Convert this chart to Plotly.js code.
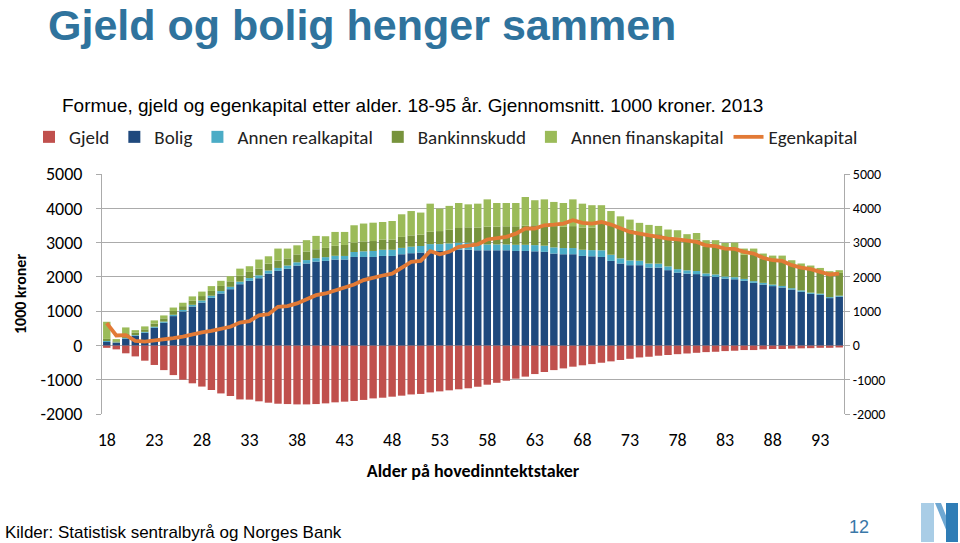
<!DOCTYPE html>
<html>
<head>
<meta charset="utf-8">
<script src="https://cdn.plot.ly/plotly-3.0.1.min.js"></script>
<style>
  html, body { margin: 0; padding: 0; background: #ffffff; }
  #chart { width: 960px; height: 543px; }
</style>
</head>
<body>
<div id="chart"></div>
<script>
// ---- Data (1000 kroner, 2013), ages 18-95 ----
var ages = [18,19,20,21,22,23,24,25,26,27,28,29,30,31,32,33,34,35,36,37,38,39,40,41,42,43,44,45,46,47,48,49,50,51,52,53,54,55,56,57,58,59,60,61,62,63,64,65,66,67,68,69,70,71,72,73,74,75,76,77,78,79,80,81,82,83,84,85,86,87,88,89,90,91,92,93,94,95];

var gjeld = [-70,-115,-230,-320,-445,-570,-720,-865,-1000,-1105,-1200,-1300,-1400,
  -1475,-1575,-1580,-1630,-1670,-1700,-1710,-1720,-1720,-1710,-1690,-1660,-1640,
  -1620,-1590,-1545,-1525,-1495,-1465,-1430,-1415,-1370,-1340,-1310,-1280,-1250,
  -1205,-1145,-1090,-1030,-970,-910,-835,-775,-720,-670,-620,-580,-545,
  -505,-465,-425,-390,-350,-330,-300,-280,-255,-235,-215,-195,-185,
  -165,-155,-135,-135,-115,-105,-105,-95,-85,-80,-70,-70,-60];

var bolig = [100,80,200,280,370,515,660,855,990,1135,1250,1390,1515,
  1640,1785,1885,1960,2095,2175,2235,2330,2390,2445,2465,2505,2505,
  2580,2580,2580,2610,2610,2660,2690,2710,2755,2755,2775,2795,2795,
  2775,2775,2775,2775,2755,2755,2745,2730,2680,2660,2660,2610,2600,
  2580,2465,2390,2340,2340,2270,2270,2195,2125,2095,2080,2020,2000,
  1950,1930,1885,1825,1775,1730,1690,1630,1565,1505,1475,1380,1420];

var annenReal = [30,10,20,20,25,30,35,40,45,50,60,60,70,
  70,75,80,85,90,85,95,95,100,100,110,110,105,
  145,165,175,180,180,185,190,190,200,200,200,200,200,
  165,170,170,170,180,180,180,180,180,180,180,180,180,
  195,180,150,140,130,120,115,110,100,95,90,80,70,
  60,60,55,50,50,45,45,40,40,35,35,30,30];

var bank = [60,30,110,70,75,90,95,110,110,125,130,140,150,
  160,180,180,200,200,215,210,230,250,260,270,290,320,
  270,290,290,300,300,320,330,330,360,380,400,430,450,
  500,520,520,530,540,560,580,610,620,620,640,650,660,
  815,875,895,890,835,875,860,845,915,855,910,790,830,
  780,810,705,780,705,705,745,695,675,690,660,675,665];

var annenFinans = [500,65,195,75,85,95,85,100,100,120,130,140,150,
  150,200,165,260,215,350,285,265,330,390,340,405,380,
  510,520,535,510,540,660,710,645,820,655,695,730,670,
  695,795,690,680,680,835,730,740,705,695,780,695,650,
  500,400,330,300,270,250,240,230,220,200,200,180,170,
  200,200,180,170,150,140,140,120,110,100,90,80,80];

var egenkapital = [650,290,300,135,110,145,155,215,260,330,380,425,485,
  545,665,710,880,910,1125,1145,1225,1340,1465,1515,1610,1700,
  1775,1905,1980,2040,2095,2270,2435,2465,2750,2660,2730,2875,2905,
  2950,3090,3115,3165,3260,3410,3410,3505,3525,3555,3650,3575,3555,
  3600,3525,3410,3310,3260,3205,3165,3115,3095,3070,3020,2915,2895,
  2825,2815,2730,2680,2555,2485,2465,2340,2270,2225,2145,2070,2095];

var xTickVals = [18,23,28,33,38,43,48,53,58,63,68,73,78,83,88,93];
var xTickText = ['18','23','28','33','38','43','48','53','58','63','68','73','78','83','88','93'];
var yTickVals = [-2000,-1000,0,1000,2000,3000,4000,5000];
var yTickText = ['-2000','-1000','0','1000','2000','3000','4000','5000'];

// ---- Layout geometry ----
var W = 960, H = 543;
var M = {l: 102, r: 116, t: 174, b: 129};
var PW = W - M.l - M.r, PH = H - M.t - M.b;
function px(x) { return (x - M.l) / PW; }
function py(y) { return (H - M.b - y) / PH; }
function pathFrom(points) {
  return 'M' + points.map(function(p){ return px(p[0]).toFixed(5) + ',' + py(p[1]).toFixed(5); }).join('L') + 'Z';
}

var calibri = 'Carlito, Lato, "Open Sans", sans-serif';
var arial = '"Liberation Sans", Arial, sans-serif';
var gridC = '#ABABAB';

function barTrace(name, vals, color) {
  return {type: 'bar', name: name, x: ages, y: vals, marker: {color: color, line: {width: 0}}, hoverinfo: 'x+y+name'};
}

var traces = [
  barTrace('Gjeld', gjeld, '#C0504D'),
  barTrace('Bolig', bolig, '#1F497D'),
  barTrace('Annen realkapital', annenReal, '#4BACC6'),
  barTrace('Bankinnskudd', bank, '#77933C'),
  barTrace('Annen finanskapital', annenFinans, '#9BBB59'),
  {type: 'scatter', mode: 'lines', name: 'Egenkapital', x: ages, y: egenkapital, yaxis: 'y2',
   line: {color: '#E27A36', width: 3.8}}
];

var layout = {
  width: W, height: H,
  margin: M,
  paper_bgcolor: '#ffffff', plot_bgcolor: '#ffffff',
  barmode: 'relative', bargap: 0.22,
  showlegend: true,
  title: {
    text: 'Gjeld og bolig henger sammen',
    xref: 'container', x: 48 / W, xanchor: 'left',
    yref: 'container', y: 1 - 10 / H, yanchor: 'top',
    font: {family: arial, size: 43, color: '#2F739D', weight: 700}
  },
  legend: {
    orientation: 'h', traceorder: 'normal',
    x: px(29), xanchor: 'left', y: py(137), yanchor: 'middle',
    font: {family: calibri, size: 19, color: '#222'},
    bgcolor: 'rgba(0,0,0,0)'
  },
  xaxis: {
    range: [17.5, 95.5],
    tickmode: 'array', tickvals: xTickVals, ticktext: xTickText,
    showgrid: false, zeroline: false, showline: false, ticks: '',
    ticklabelstandoff: 13,
    tickfont: {family: calibri, size: 18, color: '#000'},
    title: {text: 'Alder på hovedinntektstaker', standoff: 14,
            font: {family: calibri, size: 18, color: '#000', weight: 700}}
  },
  yaxis: {
    range: [-2000, 5000],
    tickmode: 'array', tickvals: yTickVals, ticktext: yTickText,
    showgrid: true, gridcolor: gridC, gridwidth: 1,
    zeroline: false, showline: true, linecolor: gridC, linewidth: 1,
    ticks: 'outside', ticklen: 5, tickcolor: gridC,
    ticklabelstandoff: 10,
    tickfont: {family: calibri, size: 18, color: '#000'},
    title: {text: '1000 kroner', standoff: 9,
            font: {family: calibri, size: 16, color: '#000', weight: 700}}
  },
  yaxis2: {
    range: [-2000, 5000], overlaying: 'y', side: 'right',
    tickmode: 'array', tickvals: yTickVals, ticktext: yTickText,
    showgrid: false, zeroline: false, showline: true, linecolor: gridC, linewidth: 1,
    ticks: 'outside', ticklen: 5, tickcolor: gridC,
    tickfont: {family: calibri, size: 14, color: '#000'}
  },
  annotations: [
    {text: 'Formue, gjeld og egenkapital etter alder. 18-95 år. Gjennomsnitt. 1000 kroner. 2013',
     xref: 'paper', yref: 'paper', x: px(60), y: py(106), xanchor: 'left', yanchor: 'middle',
     showarrow: false, font: {family: arial, size: 19, color: '#000'}},
    {text: 'Kilder: Statistisk sentralbyrå og Norges Bank',
     xref: 'paper', yref: 'paper', x: px(3), y: py(532), xanchor: 'left', yanchor: 'middle',
     showarrow: false, font: {family: arial, size: 17, color: '#000'}},
    {text: '12',
     xref: 'paper', yref: 'paper', x: px(859), y: py(527), xanchor: 'center', yanchor: 'middle',
     showarrow: false, font: {family: arial, size: 18, color: '#3A78A8'}}
  ],
  shapes: [
    {type: 'path', xref: 'paper', yref: 'paper', layer: 'above', line: {width: 0},
     fillcolor: '#A9CDE6', path: pathFrom([[921,503],[934,503],[934,542],[921,542]])},
    {type: 'path', xref: 'paper', yref: 'paper', layer: 'above', line: {width: 0},
     fillcolor: '#6FA8D2', path: pathFrom([[935,503],[941,503],[947,518],[947,532]])},
    {type: 'path', xref: 'paper', yref: 'paper', layer: 'above', line: {width: 0},
     fillcolor: '#2F7DB6', path: pathFrom([[946,503],[958,503],[958,542],[946,542]])}
  ]
};

Plotly.newPlot('chart', traces, layout, {displayModeBar: false, staticPlot: true});
</script>
</body>
</html>
